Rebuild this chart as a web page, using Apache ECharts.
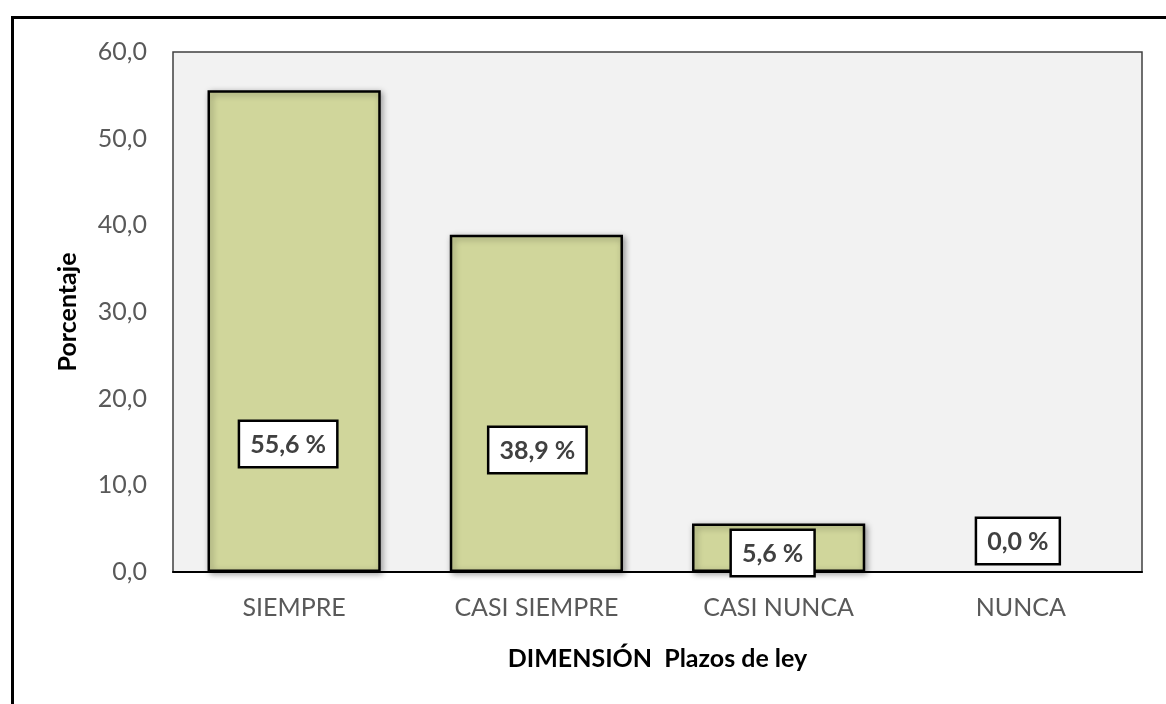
<!DOCTYPE html>
<html>
<head>
<meta charset="utf-8">
<script src="https://cdn.jsdelivr.net/npm/echarts@6/dist/echarts.min.js"></script>
<style>html,body{margin:0;padding:0;background:#fff;}#c{width:1166px;height:704px;}</style>
</head>
<body>
<div id="c"></div>
<script>
var categories = ['SIEMPRE', 'CASI SIEMPRE', 'CASI NUNCA', 'NUNCA'];
var values = [55.6, 38.9, 5.6, 0.0];
var yTicks = [0, 10, 20, 30, 40, 50, 60];
var xTitle = 'DIMENSIÓN  Plazos de ley';
var yTitle = 'Porcentaje';

// label box placement (styling only), px offsets from bar bottom-center
var labelOffsets = [[-6, -106], [1, -100], [-6, 3], [-3, -9]];

var FONT = 'Lato, "Liberation Sans", sans-serif';
var chart = echarts.init(document.getElementById('c'), null, {renderer: 'canvas'});

var dataItems = values.map(function (v, i) {
  var item = {value: v, label: {offset: labelOffsets[i]}};
  if (v === 0) item.itemStyle = {borderWidth: 0, shadowBlur: 0, shadowOffsetX: 0, shadowOffsetY: 0};
  return item;
});

chart.setOption({
  animation: false,
  backgroundColor: '#ffffff',
  graphic: [{
    type: 'rect',
    left: 10, top: 15,
    shape: {width: 1300, height: 900},
    style: {fill: 'none', stroke: '#000', lineWidth: 3},
    silent: true, z: 100
  }],
  grid: {
    left: 173, right: 24, top: 52, bottom: 132,
    show: true, backgroundColor: '#f2f2f2', borderColor: '#404040', borderWidth: 1.5
  },
  xAxis: {
    type: 'category',
    data: categories,
    name: xTitle,
    nameLocation: 'middle',
    nameGap: 74,
    nameTextStyle: {fontFamily: FONT, fontWeight: 'bold', fontSize: 25, color: '#000'},
    axisLine: {lineStyle: {color: '#000', width: 2}},
    axisTick: {show: false},
    axisLabel: {fontFamily: FONT, fontSize: 25, color: '#595959', margin: 23}
  },
  yAxis: {
    type: 'value',
    min: yTicks[0], max: yTicks[yTicks.length - 1], interval: 10,
    name: yTitle,
    nameLocation: 'middle',
    nameGap: 93,
    nameTextStyle: {fontFamily: FONT, fontWeight: 'bold', fontSize: 25, color: '#000'},
    axisLine: {show: false},
    axisTick: {show: false},
    splitLine: {show: false},
    axisLabel: {
      fontFamily: FONT, fontSize: 25, color: '#595959', margin: 26,
      formatter: function (v) { return v.toFixed(1).replace('.', ','); }
    }
  },
  series: [{
    type: 'bar',
    data: dataItems,
    barCategoryGap: '28.5%',
    itemStyle: {
      color: '#d0d69b', borderColor: '#000', borderWidth: 2.5,
      shadowColor: 'rgba(0,0,0,0.35)', shadowBlur: 6, shadowOffsetX: 2, shadowOffsetY: 2
    },
    label: {
      show: true,
      position: 'insideBottom',
      distance: 0,
      formatter: function (p) { return p.value.toFixed(1).replace('.', ',') + ' %'; },
      fontFamily: FONT, fontWeight: 'bold', fontSize: 25, color: '#404040',
      backgroundColor: '#fff', borderColor: '#000', borderWidth: 2.5,
      padding: [10, 10, 9, 10]
    }
  }]
});
</script>
</body>
</html>
